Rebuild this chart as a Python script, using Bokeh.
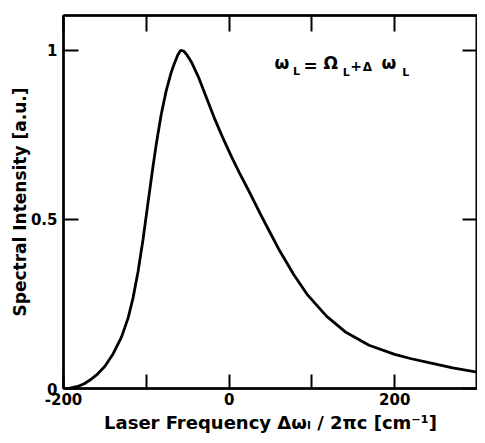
from bokeh.plotting import figure
from bokeh.models import FixedTicker, Range1d, LinearAxis, Label
from bokeh.embed import file_html
from bokeh.resources import INLINE

# Laser frequency detuning  (cm^-1)
freq = [-200, -192, -183, -175, -168, -160, -150, -140, -130, -122, -116,
        -110, -104, -98, -92, -88, -82, -76, -70, -66, -62, -58.5, -55, -51,
        -45, -37, -25, -17, -7, 3, 12, 22.6, 38, 48, 60, 78, 95, 117.6, 140,
        169, 200, 220, 240, 270, 300]
# Spectral intensity (a.u.)
intensity = [0, 0.001, 0.006, 0.014, 0.025, 0.04, 0.066, 0.103, 0.152, 0.208,
             0.268, 0.345, 0.44, 0.548, 0.655, 0.722, 0.81, 0.88, 0.934,
             0.962, 0.986, 1.0, 0.998, 0.987, 0.963, 0.921, 0.845, 0.795,
             0.738, 0.685, 0.64, 0.59, 0.515, 0.468, 0.412, 0.337, 0.276,
             0.214, 0.168, 0.128, 0.101, 0.088, 0.077, 0.061, 0.048]

x_ticks = [-200, -100, 0, 100, 200, 300]
x_tick_labels = {-200: "-200", -100: "", 0: "0", 100: "", 200: "200", 300: ""}
y_ticks = [0, 0.5, 1]
y_tick_labels = {0: "0", 0.5: "0.5", 1: "1"}
y_axis_title = "Spectral Intensity [a.u.]"
x_axis_title = "Laser Frequency Δωₗ / 2πc [cm⁻¹]"

FONT = "DejaVu Sans"

p = figure(width=477, height=435, output_backend="svg", toolbar_location=None,
           x_range=Range1d(-200, 300), y_range=Range1d(0, 1.103),
           min_border_left=63, min_border_right=0, min_border_top=15,
           min_border_bottom=45, x_axis_location=None, y_axis_location=None,
           background_fill_color="white", border_fill_color="white")
p.grid.visible = False
p.outline_line_color = "black"
p.outline_line_width = 2

p.line(freq, intensity, line_color="black", line_width=2.8)


def style_axis(ax, ticks, tick_in, labels=None):
    ax.ticker = FixedTicker(ticks=ticks)
    ax.axis_line_color = "black"
    ax.axis_line_width = 2.5
    ax.major_tick_line_color = "black"
    ax.major_tick_line_width = 2
    ax.major_tick_in = tick_in
    ax.major_tick_out = 0
    ax.minor_tick_line_color = None
    if labels is None:
        ax.major_label_overrides = {t: "" for t in ticks}
        ax.major_label_text_color = None
        ax.major_label_text_font_size = "1px"
        ax.major_label_standoff = 0
    else:
        ax.major_label_overrides = labels
        ax.major_label_text_font = FONT
        ax.major_label_text_font_size = "15px"
        ax.major_label_text_font_style = "bold"
        ax.major_label_text_color = "black"


xb = LinearAxis()
style_axis(xb, x_ticks, 14, x_tick_labels)
xb.major_label_standoff = 4
xb.axis_label = x_axis_title
xb.axis_label_text_font = FONT
xb.axis_label_text_font_size = "18px"
xb.axis_label_text_font_style = "bold"
xb.axis_label_text_color = "black"
xb.axis_label_standoff = 4
p.add_layout(xb, "below")

yl = LinearAxis()
style_axis(yl, y_ticks, 15, y_tick_labels)
yl.major_label_standoff = 6
yl.axis_label = y_axis_title
yl.axis_label_text_font = FONT
yl.axis_label_text_font_size = "17px"
yl.axis_label_text_font_style = "bold"
yl.axis_label_text_color = "black"
yl.axis_label_standoff = -2
p.add_layout(yl, "left")

xt = LinearAxis()
style_axis(xt, x_ticks, 16)
p.add_layout(xt, "above")

yr = LinearAxis()
style_axis(yr, y_ticks, 15)
p.add_layout(yr, "right")


def lab(text, x, y, size):
    p.add_layout(Label(x=x, y=y, text=text, text_font=FONT,
                       text_font_size=f"{size}px", text_font_style="bold",
                       text_color="black", text_align="center",
                       text_baseline="middle"))


# formula in the plot
lab("ω", 63.9, 0.962, 17)
lab("L", 81.5, 0.938, 11)
lab("=", 98.4, 0.953, 17)
lab("Ω", 122.6, 0.962, 17)
lab("L", 141.4, 0.935, 11)
lab("+", 153.5, 0.953, 14)
lab("Δ", 167.0, 0.951, 12)
lab("ω", 192.9, 0.962, 17)
lab("L", 213.4, 0.935, 11)

open("out.html", "w").write(file_html(p, INLINE))
